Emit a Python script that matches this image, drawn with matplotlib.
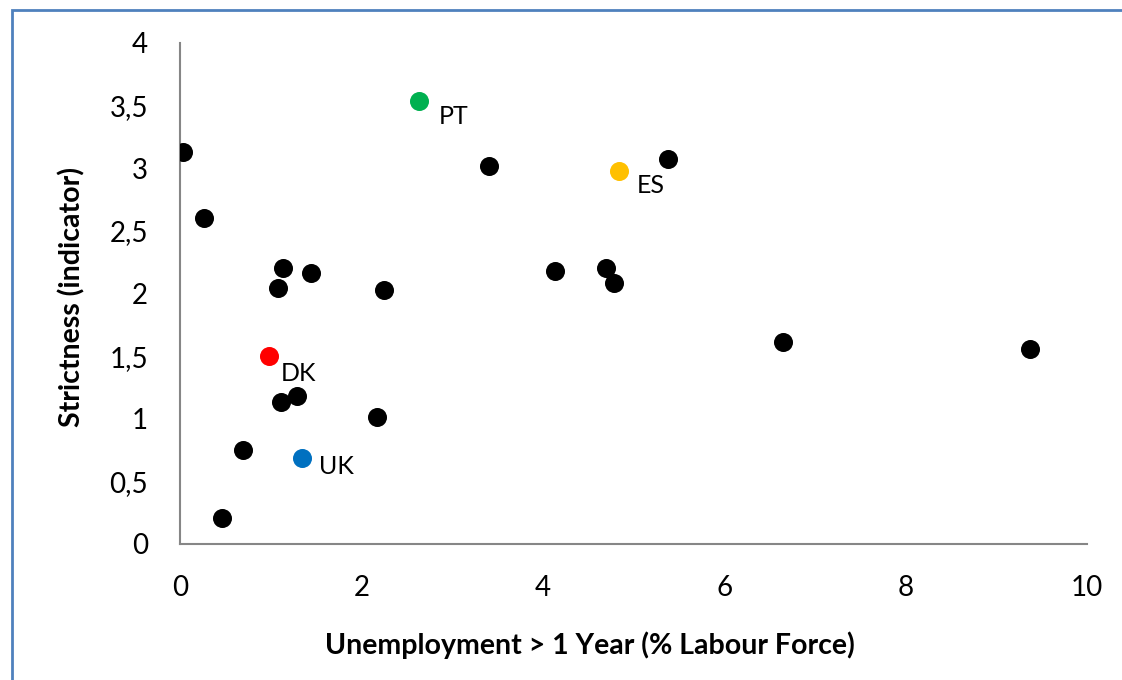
import matplotlib.pyplot as plt
from matplotlib.patches import Rectangle
from matplotlib.ticker import FuncFormatter

plt.rcParams['font.family'] = ['Lato', 'DejaVu Sans']

# Countries without labels (black)
other_x = [0.03, 0.27, 1.14, 1.08, 1.44, 2.25, 3.41, 4.13, 4.70, 4.78, 5.38, 6.65, 9.37,
           1.11, 1.29, 2.17, 0.69, 0.46]
other_y = [3.13, 2.60, 2.20, 2.04, 2.16, 2.03, 3.02, 2.18, 2.20, 2.08, 3.07, 1.61, 1.56,
           1.13, 1.18, 1.01, 0.75, 0.21]

# Highlighted countries
hl_names = ['PT', 'ES', 'DK', 'UK']
hl_x = [2.64, 4.84, 0.98, 1.34]
hl_y = [3.54, 2.98, 1.50, 0.69]
hl_colors = ['#00B050', '#FFC000', '#FF0000', '#0070C0']
hl_offsets = [(19, -16), (18, -15), (12, -17), (17, -9)]

fig = plt.figure(figsize=(11.22, 6.8), dpi=100)
ax = fig.add_axes([0.1604, 0.2, 0.8084, 0.7368])

ms = 19 ** 2 * 0.52
ax.scatter(other_x, other_y, s=ms, color='black', zorder=3, linewidths=0)
for name, x, y, c, off in zip(hl_names, hl_x, hl_y, hl_colors, hl_offsets):
    ax.scatter([x], [y], s=ms, color=c, zorder=3, linewidths=0)
    ax.annotate(name, (x, y), xytext=off, textcoords='offset pixels',
                ha='left', va='center', fontsize=18)

ax.set_xlim(0, 10)
ax.set_ylim(0, 4)
ax.set_xticks([0, 2, 4, 6, 8, 10])
ax.set_yticks([0, 0.5, 1, 1.5, 2, 2.5, 3, 3.5, 4])
comma = FuncFormatter(lambda v, p: ('%g' % v).replace('.', ','))
ax.xaxis.set_major_formatter(comma)
ax.yaxis.set_major_formatter(comma)
ax.tick_params(length=0, labelsize=20)
ax.tick_params(axis='x', pad=22)
ax.tick_params(axis='y', pad=23)

for s in ['top', 'right']:
    ax.spines[s].set_visible(False)
for s in ['left', 'bottom']:
    ax.spines[s].set_color('#868686')
    ax.spines[s].set_linewidth(1.5)

ax.set_xlabel('Unemployment > 1 Year (% Labour Force)', fontsize=20.5, fontweight='bold')
ax.set_ylabel('Strictness (indicator)', fontsize=20.5, fontweight='bold')
ax.xaxis.label.set_va('center')
ax.yaxis.label.set_va('center')
ax.xaxis.set_label_coords(0.452, -0.2016)
ax.yaxis.set_label_coords(-0.119, 0.493)

# outer frame of the chart area
fig.patches.append(Rectangle((12 / 1122, -0.1), 1.2, 1 - 10 / 680 + 0.1,
                             transform=fig.transFigure, fill=False,
                             edgecolor='#4F81BD', linewidth=2))

fig.savefig('out.png', dpi=100)
